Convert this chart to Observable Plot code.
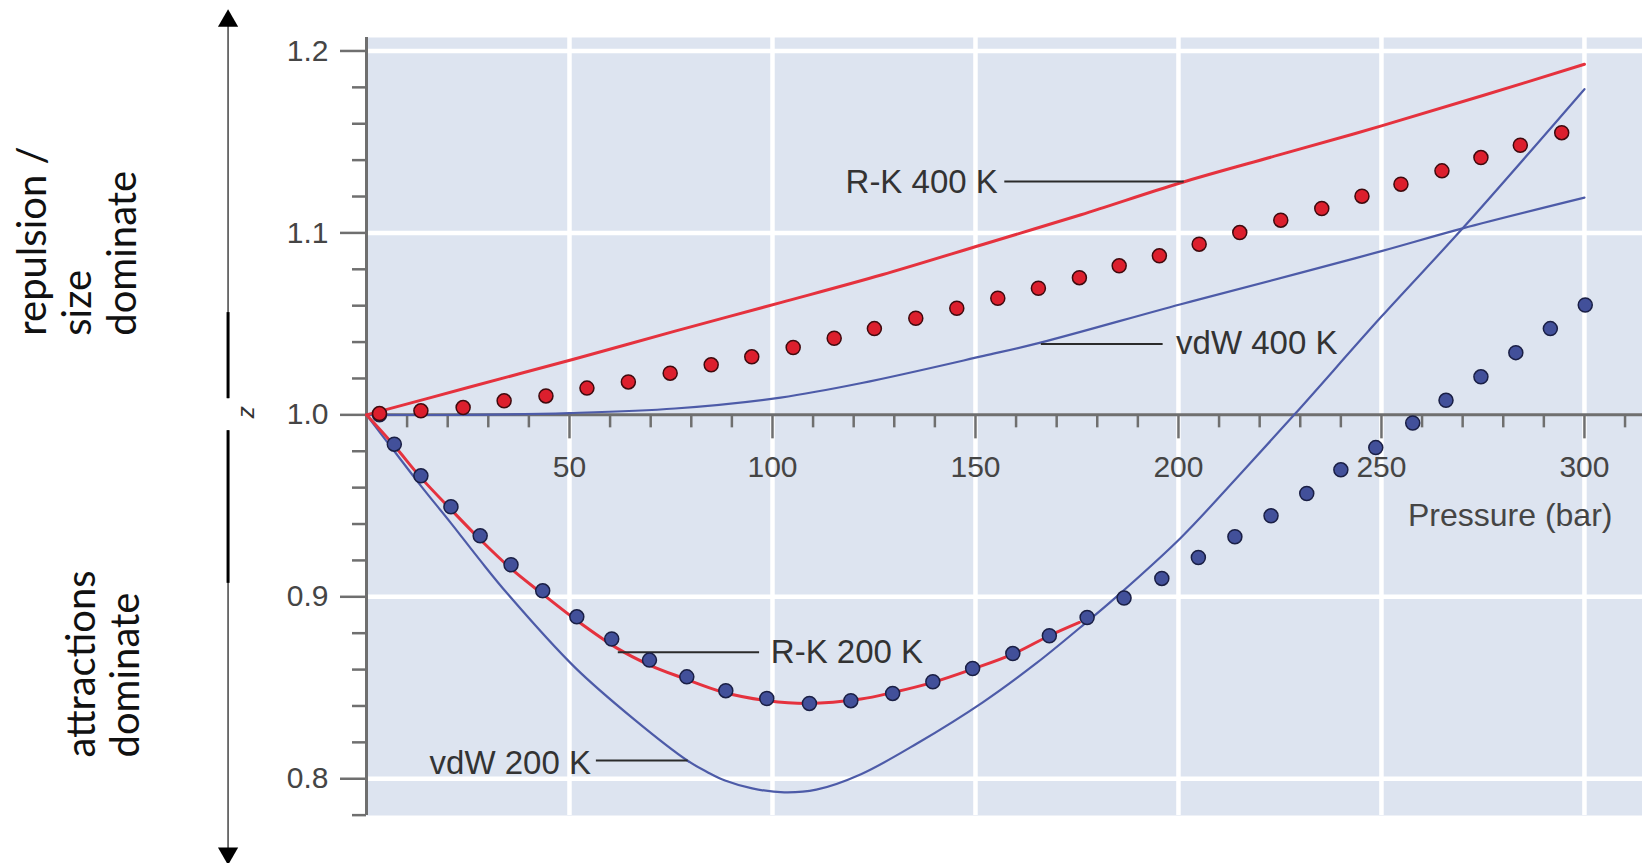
<!DOCTYPE html>
<html><head><meta charset="utf-8">
<script src="https://cdn.jsdelivr.net/npm/d3@7"></script>
<script src="https://cdn.jsdelivr.net/npm/@observablehq/plot@0.6"></script>
<style>html,body{margin:0;padding:0;background:#fff;overflow:hidden;} #chart svg{display:block;}</style>
</head><body><div id="chart"></div>
<script>
// ---- axis ticks ----
const xMajor = [50, 100, 150, 200, 250, 300];
const xMinor = [10, 20, 30, 40, 60, 70, 80, 90, 110, 120, 130, 140, 160, 170, 180, 190, 210, 220, 230, 240, 260, 270, 280, 290, 310];
const yMajor = [0.8, 0.9, 1.0, 1.1, 1.2];
const yMinor = [0.78, 0.82, 0.84, 0.86, 0.88, 0.92, 0.94, 0.96, 0.98, 1.02, 1.04, 1.06, 1.08, 1.12, 1.14, 1.16, 1.18];
const yGrid = [0.8, 0.9, 1.1, 1.2];

// ---- curves [pressure (bar), z] ----
const rk400 = [[0,1.0],[25,1.015],[51,1.0306],[76,1.046],[102,1.0617],[127,1.077],[152,1.0938],[176,1.110],[200.6,1.1276],[225,1.143],[250,1.1588],[275,1.1755],[300,1.1927]];
const vdw400 = [[0,1.0],[25,1.0],[50,1.001],[76,1.0035],[102,1.0095],[122,1.0175],[152,1.0324],[166,1.0397],[200.6,1.0608],[230,1.078],[250,1.090],[270,1.1025],[300,1.1194]];
const rk200 = [[0,1.0],[6.85,0.983],[13.4,0.9655],[20.8,0.948],[28,0.9315],[35.6,0.9155],[43.4,0.9015],[51.8,0.887],[61.9,0.8715],[69.7,0.8625],[77.5,0.8557],[88.1,0.8474],[98.8,0.8429],[108.7,0.8414],[121.8,0.8438],[129.6,0.8474],[139.5,0.853],[149.3,0.8603],[159.2,0.8685],[168.2,0.8786],[175.6,0.8859]];
const vdw200 = [[0,1.0],[6.85,0.980],[13.4,0.961],[20.8,0.9405],[28,0.920],[34.8,0.9015],[51.2,0.8615],[66,0.8325],[79.1,0.8099],[84,0.8036],[88.3,0.799],[95,0.7947],[102.9,0.7925],[110.8,0.794],[121.8,0.8025],[135.7,0.8195],[151.8,0.842],[165,0.8635],[177.6,0.8865],[184.2,0.899],[200.6,0.9325],[214,0.9645],[228.5,1.0],[250,1.054],[270.4,1.1035],[300,1.179]];

// ---- experimental points ----
const redDots = [[3.2,1.0007],[13.4,1.0022],[23.8,1.004],[33.9,1.0077],[44.2,1.0104],[54.3,1.0147],[64.5,1.0181],[74.8,1.0229],[84.9,1.0275],[94.9,1.0319],[105.1,1.037],[115.2,1.0421],[125.1,1.0474],[135.3,1.0531],[145.4,1.0586],[155.5,1.0641],[165.5,1.0696],[175.6,1.0754],[185.4,1.0819],[195.3,1.0874],[205.1,1.0938],[215.1,1.1002],[225.2,1.107],[235.3,1.1134],[245.2,1.1202],[254.8,1.1268],[264.9,1.1341],[274.5,1.1414],[284.2,1.1482],[294.4,1.1551]];
const blueDots = [[3.2,1.0],[6.85,0.9839],[13.4,0.9665],[20.8,0.9495],[28.0,0.9335],[35.6,0.9176],[43.4,0.9033],[51.8,0.889],[60.4,0.8768],[69.7,0.8652],[78.9,0.856],[88.5,0.8484],[98.6,0.8441],[109.1,0.8414],[119.3,0.8429],[129.6,0.8469],[139.5,0.8533],[149.3,0.8606],[159.2,0.8688],[168.2,0.8786],[177.5,0.8886],[186.6,0.8993],[195.9,0.9101],[204.9,0.9216],[213.9,0.933],[222.8,0.9445],[231.6,0.9568],[240.0,0.9698],[248.6,0.982],[257.7,0.9955],[265.9,1.008],[274.5,1.0209],[283.1,1.0342],[291.6,1.0474],[300.2,1.0604]];

// ---- curve labels and leader lines ----
const labelsEnd = [
  {text: "R-K 400 K", p: 155.5, z: 1.1279},
  {text: "vdW 200 K", p: 55.3, z: 0.8082}
];
const labelsStart = [
  {text: "vdW 400 K", p: 199.4, z: 1.039},
  {text: "R-K 200 K", p: 99.6, z: 0.8695}
];
const leaders = [
  {p1: 157.1, p2: 201.3, z: 1.1283},
  {p1: 166.1, p2: 196.1, z: 1.039},
  {p1: 61.9, p2: 96.7, z: 0.8695},
  {p1: 56.5, p2: 79.1, z: 0.81}
];

// ---- left-side annotation (arrow and captions) ----
const arrowP = -34.1;
const arrowThin = [{z1: 1.2193, z2: 1.0089}, {z1: 0.9913, z2: 0.7578}];
const arrowThick = [{z1: 1.0562, z2: 1.0089}, {z1: 0.9913, z2: 0.9074}];
const arrowHeads = [{z: 1.2165, rot: 0}, {z: 0.7590, rot: 180}];
const sideCaptions = [
  {text: "repulsion /\nsize\ndominate", p: -71.4, z: 1.0435},
  {text: "attractions\ndominate", p: -65.0, z: 0.8117}
];
const zLabel = [{text: "z", p: -29.6, z: 1.0015}];
const xTitle = [{text: "Pressure (bar)", p: 306.9, z: 0.9446}];

const axisColor = "#6f6f6f";
const red = "#e5323e", blue = "#4d5ba8";
const xy = {x: d => d[0], y: d => d[1]};

const chart = Plot.plot({
  width: 1642,
  height: 863,
  marginLeft: 366,
  marginRight: 0,
  marginTop: 37,
  marginBottom: 48,
  x: {domain: [0, 314.3], axis: null},
  y: {domain: [0.7798, 1.2074], axis: null},
  style: {fontFamily: "'Liberation Sans', Arial, sans-serif", background: "#fff"},
  marks: [
    Plot.frame({fill: "#dde4f0", stroke: "none"}),
    Plot.ruleX(xMajor, {stroke: "#fff", strokeWidth: 4.5}),
    Plot.ruleY(yGrid, {stroke: "#fff", strokeWidth: 4.5}),
    // axes
    Plot.ruleY([1], {stroke: axisColor, strokeWidth: 3}),
    Plot.ruleX([0], {stroke: axisColor, strokeWidth: 3}),
    Plot.ruleX(xMajor, {x: d => d, y1: () => 1, y2: () => 1, insetBottom: -24, stroke: axisColor, strokeWidth: 2.5}),
    Plot.ruleX(xMinor, {x: d => d, y1: () => 1, y2: () => 1, insetBottom: -13, stroke: axisColor, strokeWidth: 2.5}),
    Plot.ruleY(yMajor, {y: d => d, x1: () => 0, x2: () => 0, insetLeft: -26, stroke: axisColor, strokeWidth: 2.5}),
    Plot.ruleY(yMinor, {y: d => d, x1: () => 0, x2: () => 0, insetLeft: -14, stroke: axisColor, strokeWidth: 2.5}),
    Plot.text(xMajor, {x: d => d, y: () => 1, text: d => String(d), dy: 53, fontSize: 30, fill: "#454545"}),
    Plot.text(yMajor, {x: () => 0, y: d => d, text: d => d.toFixed(1), dx: -38, textAnchor: "end", fontSize: 30, fill: "#454545"}),
    Plot.text(xTitle, {x: "p", y: "z", text: "text", textAnchor: "end", fontSize: 32, fill: "#454545"}),
    // model curves
    Plot.line(vdw400, {...xy, stroke: blue, strokeWidth: 2.2, curve: "catmull-rom"}),
    Plot.line(vdw200, {...xy, stroke: blue, strokeWidth: 2.2, curve: "catmull-rom"}),
    Plot.line(rk400, {...xy, stroke: red, strokeWidth: 3, curve: "catmull-rom"}),
    Plot.line(rk200, {...xy, stroke: red, strokeWidth: 3, curve: "catmull-rom"}),
    // leaders and labels
    Plot.link(leaders, {x1: "p1", x2: "p2", y1: "z", y2: "z", stroke: "#2b2b2b", strokeWidth: 2}),
    Plot.text(labelsEnd, {x: "p", y: "z", text: "text", textAnchor: "end", fontSize: 33, fill: "#333"}),
    Plot.text(labelsStart, {x: "p", y: "z", text: "text", textAnchor: "start", fontSize: 33, fill: "#333"}),
    // experimental dots
    Plot.dot(blueDots, {...xy, r: 7, fill: "#42509a", stroke: "#1a1f45", strokeWidth: 1.5}),
    Plot.dot(redDots, {...xy, r: 7, fill: "#dc1f2d", stroke: "#3e0a0e", strokeWidth: 1.5}),
    // left annotation
    Plot.ruleX(arrowThin, {x: () => arrowP, y1: "z1", y2: "z2", stroke: "#444", strokeWidth: 1.5}),
    Plot.ruleX(arrowThick, {x: () => arrowP, y1: "z1", y2: "z2", stroke: "#000", strokeWidth: 3}),
    Plot.dot(arrowHeads, {x: () => arrowP, y: "z", symbol: "triangle", r: 7.5, fill: "#000", stroke: "none", rotate: "rot"}),
    Plot.text(zLabel, {x: "p", y: "z", text: "text", rotate: -90, fontSize: 24, fontStyle: "italic", fill: "#333"}),
    Plot.text(sideCaptions, {x: "p", y: "z", text: "text", rotate: -90, textAnchor: "start", lineAnchor: "middle", lineHeight: 1.12, fontSize: 40, fontFamily: "Lato, 'Open Sans', sans-serif", fill: "#111"})
  ]
});
document.getElementById("chart").appendChild(chart);
</script></body></html>
